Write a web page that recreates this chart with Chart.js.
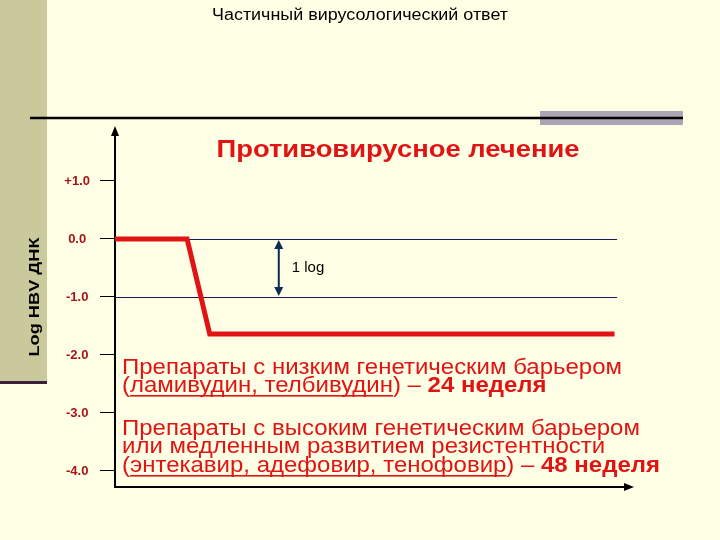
<!DOCTYPE html>
<html><head><meta charset="utf-8">
<script src="https://cdn.jsdelivr.net/npm/chart.js@4"></script>
<style>html,body{margin:0;padding:0;background:#FFFFE6}canvas{display:block}</style>
</head><body>
<canvas id="c" width="720" height="540"></canvas>
<script>
// ---- data ----
const timeX = [0, 14, 18.4, 97];
const logValues = [0, 0, -1.64, -1.64];
const tickValues = [1, 0, -1, -2, -3, -4];
const tickLabels = ['+1.0', '0.0', '-1.0', '-2.0', '-3.0', '-4.0'];
const gridValues = [0, -1];
const gridEndX = 97.5;
const arrowX = 31.8;

const SANS = '"Liberation Sans", Arial, sans-serif';
const RED = '#E01414';

function fitText(ctx, text, x, y, font, target, color, align) {
  ctx.save();
  ctx.font = font;
  const w = ctx.measureText(text).width;
  const sx = target / w;
  ctx.translate(x, y);
  ctx.scale(sx, 1);
  ctx.fillStyle = color;
  ctx.textAlign = align || 'center';
  ctx.textBaseline = 'middle';
  ctx.fillText(text, 0, 0);
  ctx.restore();
}

function drawRuns(ctx, runs, x, y, size, sx, color) {
  ctx.save();
  ctx.translate(x, y);
  ctx.scale(sx, 1);
  ctx.textBaseline = 'alphabetic';
  ctx.textAlign = 'left';
  let cx = 0;
  for (const r of runs) {
    ctx.font = (r.b ? 'bold ' : '') + size + 'px ' + SANS;
    ctx.fillStyle = color;
    ctx.fillText(r.t, cx, 0);
    const w = ctx.measureText(r.t).width;
    if (r.u) {
      ctx.fillRect(cx, 3, w, 1.6);
    }
    cx += w;
  }
  ctx.restore();
}

const deco = {
  id: 'deco',
  beforeDraw(c) {
    const ctx = c.ctx;
    ctx.save();
    ctx.fillStyle = '#FFFFE6';
    ctx.fillRect(0, 0, 720, 540);
    ctx.fillStyle = '#C9C99C';
    ctx.fillRect(0, 0, 47, 381);
    ctx.fillStyle = '#3B1F3B';
    ctx.fillRect(0, 381, 47, 3);
    ctx.fillStyle = '#A9A5B5';
    ctx.fillRect(540, 111, 143, 14);
    ctx.strokeStyle = '#000';
    ctx.lineWidth = 2.5;
    ctx.beginPath(); ctx.moveTo(30, 118); ctx.lineTo(683, 118); ctx.stroke();
    ctx.restore();
    fitText(ctx, 'Частичный вирусологический ответ', 360, 16,
      '16px "Liberation Sans Narrow", "Arial Narrow", ' + SANS, 296, '#000', 'center');
    fitText(ctx, 'Противовирусное лечение', 398, 151, 'bold 23px ' + SANS, 363, RED, 'center');
    ctx.save();
    ctx.translate(35, 297);
    ctx.rotate(-Math.PI / 2);
    fitText(ctx, 'Log HBV ДНК', 0, 0, 'bold 14px ' + SANS, 119, '#000', 'center');
    ctx.restore();
  },
  beforeDatasetsDraw(c) {
    const ctx = c.ctx, xs = c.scales.x, ys = c.scales.y;
    ctx.save();
    ctx.strokeStyle = '#1A1A5A';
    ctx.lineWidth = 1;
    for (const v of gridValues) {
      const y = Math.round(ys.getPixelForValue(v)) + 0.5;
      ctx.beginPath();
      ctx.moveTo(xs.getPixelForValue(0), y);
      ctx.lineTo(xs.getPixelForValue(gridEndX), y);
      ctx.stroke();
    }
    ctx.restore();
  },
  afterDraw(c) {
    const ctx = c.ctx, xs = c.scales.x, ys = c.scales.y, a = c.chartArea;
    ctx.save();
    ctx.fillStyle = '#000';
    // y axis arrow
    ctx.beginPath();
    ctx.moveTo(a.left, a.top - 4); ctx.lineTo(a.left - 4, a.top + 6); ctx.lineTo(a.left + 4, a.top + 6);
    ctx.closePath(); ctx.fill();
    // x axis arrow
    ctx.beginPath();
    ctx.moveTo(a.right + 4, a.bottom); ctx.lineTo(a.right - 6, a.bottom - 4); ctx.lineTo(a.right - 6, a.bottom + 4);
    ctx.closePath(); ctx.fill();
    // 1 log arrow
    const ax = xs.getPixelForValue(arrowX);
    const y0 = ys.getPixelForValue(0), y1 = ys.getPixelForValue(-1);
    ctx.strokeStyle = '#0D2A50'; ctx.fillStyle = '#0D2A50'; ctx.lineWidth = 2;
    ctx.beginPath(); ctx.moveTo(ax, y0 + 5); ctx.lineTo(ax, y1 - 5); ctx.stroke();
    ctx.beginPath(); ctx.moveTo(ax, y0 + 1); ctx.lineTo(ax - 4.5, y0 + 10); ctx.lineTo(ax + 4.5, y0 + 10); ctx.closePath(); ctx.fill();
    ctx.beginPath(); ctx.moveTo(ax, y1 - 1); ctx.lineTo(ax - 4.5, y1 - 10); ctx.lineTo(ax + 4.5, y1 - 10); ctx.closePath(); ctx.fill();
    ctx.fillStyle = '#000';
    ctx.font = '15px ' + SANS;
    ctx.textBaseline = 'middle'; ctx.textAlign = 'left';
    ctx.fillText('1 log', ax + 13, (y0 + y1) / 2);
    // annotation texts
    const size = 22;
    ctx.font = size + 'px ' + SANS;
    const l1 = 'Препараты с низким генетическим барьером';
    const sx = 500 / ctx.measureText(l1).width;
    const x0 = 122;
    drawRuns(ctx, [{t: l1}], x0, 374, size, sx, RED);
    drawRuns(ctx, [{t: '('}, {t: 'ламивудин, телбивудин', u: 1}, {t: ') – '}, {t: '24 неделя', b: 1}], x0, 392, size, sx, RED);
    drawRuns(ctx, [{t: 'Препараты с высоким генетическим барьером'}], x0, 435, size, sx, RED);
    drawRuns(ctx, [{t: 'или медленным развитием резистентности'}], x0, 453, size, sx, RED);
    drawRuns(ctx, [{t: '('}, {t: 'энтекавир, адефовир, тенофовир', u: 1}, {t: ') – '}, {t: '48 неделя', b: 1}], x0, 472, size, sx, RED);
    ctx.restore();
  }
};

new Chart(document.getElementById('c'), {
  type: 'line',
  data: {
    datasets: [{
      data: timeX.map((x, i) => ({x: x, y: logValues[i]})),
      borderColor: RED,
      borderWidth: 5,
      pointRadius: 0,
      tension: 0,
      fill: false
    }]
  },
  options: {
    responsive: false,
    animation: false,
    layout: {padding: {left: 60, right: 90, top: 130, bottom: 53}},
    plugins: {legend: {display: false}, tooltip: {enabled: false}, title: {display: false}},
    scales: {
      x: {
        type: 'linear', min: 0, max: 100,
        afterFit(s) { s.height = 0; },
        ticks: {display: false},
        grid: {display: false, drawTicks: false},
        border: {display: true, color: '#000', width: 2}
      },
      y: {
        type: 'linear', min: -4.276, max: 1.879,
        afterFit(s) { s.width = 55; },
        afterBuildTicks(s) { s.ticks = tickValues.map(v => ({value: v})); },
        ticks: {
          callback: (v) => tickLabels[tickValues.indexOf(v)],
          color: '#A5141A',
          font: {family: SANS, size: 13, weight: 'bold'},
          padding: 10,
          crossAlign: 'center'
        },
        grid: {drawOnChartArea: false, drawTicks: true, tickLength: 15, tickColor: '#000', tickWidth: 1},
        border: {display: true, color: '#000', width: 2}
      }
    }
  },
  plugins: [deco]
});
</script>
</body></html>
